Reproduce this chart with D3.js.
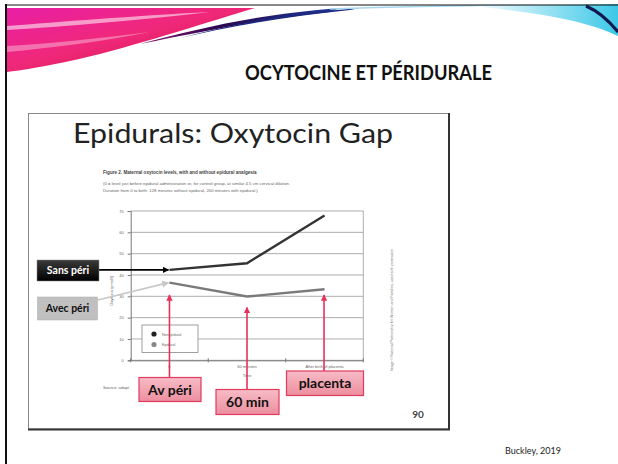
<!DOCTYPE html>
<html>
<head>
<meta charset="utf-8">
<script src="https://cdn.jsdelivr.net/npm/d3@7"></script>
<style>
  body { margin: 0; background: #fff; }
  svg { display: block; }
</style>
</head>
<body>
<svg id="slide" width="618" height="464"></svg>
<script>
// chart data
var categories = ['0', '60 minutes', 'After birth of placenta'];
var nonEpidural = [42.4, 45.5, 67.9];
var epidural = [36.4, 29.9, 33.3];
var seriesNames = ['Nonepidural', 'Epidural'];
var yTicks = [0, 10, 20, 30, 40, 50, 60, 70];
var callouts = ['Av péri', '60 min', 'placenta'];

var svg = d3.select('#slide');
var defs = svg.append('defs');

// ---- slide decoration ----
var gPink = defs.append('linearGradient').attr('id', 'pink').attr('x1', 0).attr('y1', 0).attr('x2', 1).attr('y2', 1);
gPink.append('stop').attr('offset', '0%').attr('stop-color', '#e81fa5');
gPink.append('stop').attr('offset', '45%').attr('stop-color', '#f0287a');
gPink.append('stop').attr('offset', '100%').attr('stop-color', '#c8103a');
var gDark = defs.append('linearGradient').attr('id', 'dark').attr('x1', 0).attr('y1', 0).attr('x2', 1).attr('y2', 0);
gDark.append('stop').attr('offset', '0%').attr('stop-color', '#8a1070');
gDark.append('stop').attr('offset', '40%').attr('stop-color', '#2a0850');
gDark.append('stop').attr('offset', '100%').attr('stop-color', '#1a3a9a');
var gCyan = defs.append('linearGradient').attr('id', 'cyan').attr('x1', 0).attr('y1', 0).attr('x2', 1).attr('y2', 0);
gCyan.append('stop').attr('offset', '0%').attr('stop-color', '#ffffff');
gCyan.append('stop').attr('offset', '100%').attr('stop-color', '#3cc8e8');

var deco = svg.append('g');
deco.append('path')
    .attr('d', 'M7,8 L255,8 C215,20 160,38 100,54 C60,64 25,70 7,72 Z')
    .attr('fill', 'url(#pink)');
deco.append('path')
    .attr('d', 'M7,26 C60,22 130,16 210,12 C140,20 70,26 7,30 Z')
    .attr('fill', '#ffffff').attr('opacity', 0.55);
deco.append('path')
    .attr('d', 'M7,46 C50,44 100,38 150,32 C100,42 50,48 7,52 Z')
    .attr('fill', '#ffffff').attr('opacity', 0.35);
deco.append('path')
    .attr('d', 'M140,44 C200,28 260,14 340,8 L330,12 C270,18 210,30 140,44 Z')
    .attr('fill', 'url(#dark)');
deco.append('path')
    .attr('d', 'M180,38 C240,22 300,12 360,8 L350,10 C290,16 230,26 180,38 Z')
    .attr('fill', '#1c2a80');
deco.append('path')
    .attr('d', 'M330,9 C420,6 520,5 600,6')
    .attr('fill', 'none').attr('stroke', '#a8d8f0').attr('stroke-width', 1.5);
deco.append('path')
    .attr('d', 'M470,6 L618,4 L618,36 C590,22 540,12 470,6 Z')
    .attr('fill', 'url(#cyan)');
deco.append('path')
    .attr('d', 'M586,6 C600,12 610,22 618,32')
    .attr('fill', 'none').attr('stroke', '#101a50').attr('stroke-width', 3);

// slide frame (left and top)
svg.append('line').attr('x1', 6).attr('y1', 4).attr('x2', 6).attr('y2', 464)
    .attr('stroke', '#111').attr('stroke-width', 2);
svg.append('line').attr('x1', 6).attr('y1', 5).attr('x2', 618).attr('y2', 5)
    .attr('stroke', '#111').attr('stroke-width', 1.2);

svg.append('text')
    .attr('x', 245).attr('y', 80)
    .attr('textLength', 247).attr('lengthAdjust', 'spacingAndGlyphs')
    .style('font-family', 'Lato, "Open Sans", sans-serif')
    .style('font-weight', 'bold').style('font-size', '21px').attr('fill', '#111')
    .text('OCYTOCINE ET PÉRIDURALE');

// ---- inner picture box ----
svg.append('rect').attr('x', 28.5).attr('y', 113.5).attr('width', 420.5).attr('height', 315.5)
    .attr('fill', '#fff').attr('stroke', '#888').attr('stroke-width', 1);
svg.append('path').attr('d', 'M449,113 L449,429.5 L28,429.5')
    .attr('fill', 'none').attr('stroke', '#333').attr('stroke-width', 2);

svg.append('text')
    .attr('x', 73).attr('y', 143)
    .attr('textLength', 320).attr('lengthAdjust', 'spacingAndGlyphs')
    .style('font-family', 'Lato, "Open Sans", sans-serif')
    .style('font-size', '27px').attr('fill', '#222')
    .text('Epidurals: Oxytocin Gap');

var small = 'Liberation Sans, Arial, sans-serif';
svg.append('text').attr('x', 103).attr('y', 174)
    .style('font-family', small).style('font-size', '4.6px').style('font-weight', 'bold').attr('fill', '#444')
    .text('Figure 2. Maternal oxytocin levels, with and without epidural analgesia');
svg.append('text').attr('x', 103).attr('y', 185)
    .style('font-family', small).style('font-size', '4.3px').attr('fill', '#666')
    .text('(0 = level just before epidural administration or, for control group, at similar 4.5 cm cervical dilation.');
svg.append('text').attr('x', 103).attr('y', 191.5)
    .style('font-family', small).style('font-size', '4.3px').attr('fill', '#666')
    .text('Duration from 0 to birth: 128 minutes without epidural, 200 minutes with epidural.)');

// ---- the chart ----
var x0 = 130.7, x1 = 363.3, yTop = 211, yBot = 360.3;
var xBand = d3.scaleBand().domain(categories).range([x0, x1]);
var x = function(c) { return xBand(c) + xBand.bandwidth() / 2; };
var y = d3.scaleLinear().domain([0, 70]).range([yBot, yTop]);

var chart = svg.append('g');

// grid
chart.selectAll('.grid').data(yTicks).enter().append('line')
    .attr('x1', x0).attr('x2', x1)
    .attr('y1', function(d) { return y(d); }).attr('y2', function(d) { return y(d); })
    .attr('stroke', '#999').attr('stroke-width', 0.8);
chart.append('line').attr('x1', x1).attr('x2', x1).attr('y1', yTop).attr('y2', yBot)
    .attr('stroke', '#999').attr('stroke-width', 0.8);

var yAxis = chart.append('g').attr('transform', 'translate(' + x0 + ',0)')
    .call(d3.axisLeft(y).tickValues(yTicks).tickSize(3).tickPadding(4));
yAxis.selectAll('text').style('font-family', small).style('font-size', '4px').attr('fill', '#666');
yAxis.selectAll('line, path').attr('stroke', '#777');

var xAxis = chart.append('g').attr('transform', 'translate(0,' + yBot + ')')
    .call(d3.axisBottom(xBand).tickSize(0).tickPadding(5));
xAxis.selectAll('text').style('font-family', small).style('font-size', '4px').attr('fill', '#666');
xAxis.select('.domain').attr('stroke', '#777');
// category boundary ticks
var bounds = d3.range(categories.length + 1).map(function(i) { return x0 + i * xBand.step(); });
chart.selectAll('.btick').data(bounds).enter().append('line')
    .attr('x1', function(d) { return d; }).attr('x2', function(d) { return d; })
    .attr('y1', yBot - 2).attr('y2', yBot + 2).attr('stroke', '#777');

chart.append('text').attr('x', x(categories[1])).attr('y', yBot + 17)
    .attr('text-anchor', 'middle').style('font-family', small).style('font-size', '4px').attr('fill', '#666')
    .text('Time');
chart.append('text')
    .attr('transform', 'translate(113,' + ((yTop + yBot) / 2 + 5) + ') rotate(-90)')
    .attr('text-anchor', 'middle').style('font-family', small).style('font-size', '4px').attr('fill', '#666')
    .text('Oxytocin (pmol/l)');

var line = d3.line()
    .x(function(d, i) { return x(categories[i]); })
    .y(function(d) { return y(d); });
chart.append('path').datum(epidural).attr('d', line)
    .attr('fill', 'none').attr('stroke', '#7a7a7a').attr('stroke-width', 2.4);
chart.append('path').datum(nonEpidural).attr('d', line)
    .attr('fill', 'none').attr('stroke', '#333').attr('stroke-width', 2.4);

// legend
var leg = chart.append('g').attr('transform', 'translate(142,325)');
leg.append('rect').attr('width', 56).attr('height', 27.5)
    .attr('fill', '#fff').attr('stroke', '#888').attr('stroke-width', 0.8);
leg.selectAll('circle').data(seriesNames).enter().append('circle')
    .attr('cx', 12).attr('cy', function(d, i) { return 9 + i * 10.5; }).attr('r', 2.6)
    .attr('fill', function(d, i) { return i === 0 ? '#222' : '#888'; });
leg.selectAll('text').data(seriesNames).enter().append('text')
    .attr('x', 20).attr('y', function(d, i) { return 10.5 + i * 10.5; })
    .style('font-family', small).style('font-size', '3.6px').attr('fill', '#666')
    .text(function(d) { return d; });

// source line, cut off by the first callout box as in the slide
svg.append('text').attr('x', 103).attr('y', 389)
    .style('font-family', small).style('font-size', '4.2px').attr('fill', '#666')
    .text('Source: adapt');

// rotated credit
svg.append('text')
    .attr('transform', 'translate(393,310) rotate(-90)')
    .attr('text-anchor', 'middle').style('font-family', small).style('font-size', '3.6px').attr('fill', '#777')
    .text('Image © National Partnership for Women and Families, used with permission');

svg.append('text').attr('x', 418).attr('y', 418).attr('text-anchor', 'middle')
    .style('font-family', 'Lato, sans-serif').style('font-weight', 'bold').style('font-size', '10px').attr('fill', '#444')
    .text('90');

svg.append('text').attr('x', 533).attr('y', 454).attr('text-anchor', 'middle')
    .style('font-family', 'Lato, "Open Sans", sans-serif').style('font-size', '9px').attr('fill', '#222')
    .text('Buckley, 2019');

// ---- annotations ----
function marker(id, color) {
    defs.append('marker').attr('id', id)
        .attr('viewBox', '0 0 10 10').attr('refX', 9).attr('refY', 5)
        .attr('markerWidth', 4).attr('markerHeight', 4).attr('orient', 'auto')
        .append('path').attr('d', 'M0,0 L10,5 L0,10 Z').attr('fill', color);
}
marker('ahBlack', '#000');
marker('ahGray', '#c8c8c8');
marker('ahRed', '#e8305a');

var gBox = defs.append('linearGradient').attr('id', 'blackbox').attr('x1', 0).attr('y1', 0).attr('x2', 0).attr('y2', 1);
gBox.append('stop').attr('offset', '0%').attr('stop-color', '#3a3a3a');
gBox.append('stop').attr('offset', '100%').attr('stop-color', '#000');
var gRed = defs.append('linearGradient').attr('id', 'redbox').attr('x1', 0).attr('y1', 0).attr('x2', 0).attr('y2', 1);
gRed.append('stop').attr('offset', '0%').attr('stop-color', '#f7bcc6');
gRed.append('stop').attr('offset', '100%').attr('stop-color', '#ec8e9f');

var ann = svg.append('g');
// black arrow to non-epidural start
ann.append('line').attr('x1', 99).attr('y1', y(nonEpidural[0]))
    .attr('x2', x(categories[0]) - 1).attr('y2', y(nonEpidural[0]))
    .attr('stroke', '#000').attr('stroke-width', 1.6).attr('marker-end', 'url(#ahBlack)');
// gray arrow to epidural start
ann.append('line').attr('x1', 98).attr('y1', 300)
    .attr('x2', x(categories[0]) - 1).attr('y2', y(epidural[0]))
    .attr('stroke', '#c8c8c8').attr('stroke-width', 1.8).attr('marker-end', 'url(#ahGray)');

ann.append('rect').attr('x', 37).attr('y', 260).attr('width', 62).attr('height', 21)
    .attr('fill', 'url(#blackbox)').attr('stroke', '#888').attr('stroke-width', 0.5);
ann.append('text').attr('x', 68).attr('y', 274).attr('text-anchor', 'middle')
    .style('font-family', 'Lato, sans-serif').style('font-weight', 'bold').style('font-size', '10.5px').attr('fill', '#fff')
    .text('Sans péri');
ann.append('rect').attr('x', 37.5).attr('y', 297).attr('width', 60).attr('height', 23)
    .attr('fill', '#c0c0c0').attr('stroke', '#aaa').attr('stroke-width', 0.5);
ann.append('text').attr('x', 67.5).attr('y', 312).attr('text-anchor', 'middle')
    .style('font-family', 'Lato, sans-serif').style('font-weight', 'bold').style('font-size', '10.5px').attr('fill', '#111')
    .text('Avec péri');

// pink arrows and labels
var calloutTips = [295, 307.5, 295];
var calloutBoxes = [
    {x: 139, y: 377.5, w: 62, h: 24},
    {x: 216, y: 389.5, w: 63, h: 25},
    {x: 286.5, y: 371, w: 77, h: 24.5}
];
callouts.forEach(function(c, i) {
    var cx = x(categories[i]) + (i === 2 ? -0.5 : 0);
    var b = calloutBoxes[i];
    ann.append('line').attr('x1', cx).attr('y1', b.y).attr('x2', cx).attr('y2', calloutTips[i])
        .attr('stroke', '#e8305a').attr('stroke-width', 1.6).attr('marker-end', 'url(#ahRed)');
    ann.append('rect').attr('x', b.x).attr('y', b.y).attr('width', b.w).attr('height', b.h)
        .attr('fill', 'url(#redbox)').attr('stroke', '#e23a5e').attr('stroke-width', 1.2);
    ann.append('text').attr('x', b.x + b.w / 2).attr('y', b.y + b.h / 2 + 5).attr('text-anchor', 'middle')
        .style('font-family', 'Lato, sans-serif').style('font-weight', 'bold').style('font-size', '14px').attr('fill', '#111')
        .text(c);
});
</script>
</body>
</html>
